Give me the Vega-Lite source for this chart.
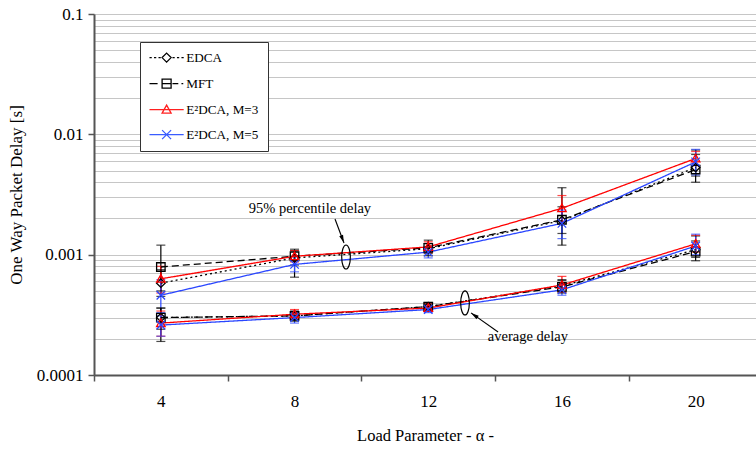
{
  "$schema": "https://vega.github.io/schema/vega-lite/v6.json",
  "width": 662,
  "height": 361,
  "autosize": {"type": "none"},
  "padding": {"left": 94, "top": 14, "right": 0, "bottom": 74},
  "background": "white",
  "config": {
    "font": "Times New Roman, Liberation Serif, DejaVu Serif, serif",
    "view": {"stroke": null},
    "axis": {
      "labelFont": "Times New Roman, Liberation Serif, DejaVu Serif, serif",
      "titleFont": "Times New Roman, Liberation Serif, DejaVu Serif, serif",
      "labelColor": "black",
      "titleColor": "black",
      "titleFontWeight": "normal",
      "domainColor": "#555555",
      "domainWidth": 2,
      "tickColor": "#555555",
      "tickWidth": 1.5,
      "tickSize": 6
    },
    "legend": {
      "labelFont": "Times New Roman, Liberation Serif, DejaVu Serif, serif"
    }
  },
  "datasets": {
    "delay": [
      {"alpha": 4, "series": "EDCA", "metric": "p95", "delay": 0.00058, "lo": 0.00045, "hi": 0.00075},
      {"alpha": 4, "series": "MFT", "metric": "p95", "delay": 0.00079, "lo": 0.0005, "hi": 0.0012},
      {"alpha": 4, "series": "E²DCA, M=3", "metric": "p95", "delay": 0.00063, "lo": 0.00048, "hi": 0.0008},
      {"alpha": 4, "series": "E²DCA, M=5", "metric": "p95", "delay": 0.00046, "lo": 0.00033, "hi": 0.00062},
      {"alpha": 4, "series": "EDCA", "metric": "avg", "delay": 0.0003, "lo": 0.00024, "hi": 0.00036},
      {"alpha": 4, "series": "MFT", "metric": "avg", "delay": 0.0003, "lo": 0.00019, "hi": 0.00036},
      {"alpha": 4, "series": "E²DCA, M=3", "metric": "avg", "delay": 0.00027, "lo": 0.00021, "hi": 0.00034},
      {"alpha": 4, "series": "E²DCA, M=5", "metric": "avg", "delay": 0.00026, "lo": 0.00021, "hi": 0.00031},
      {"alpha": 8, "series": "EDCA", "metric": "p95", "delay": 0.00094, "lo": 0.00082, "hi": 0.00108},
      {"alpha": 8, "series": "MFT", "metric": "p95", "delay": 0.00097, "lo": 0.00065, "hi": 0.00111},
      {"alpha": 8, "series": "E²DCA, M=3", "metric": "p95", "delay": 0.00097, "lo": 0.00087, "hi": 0.00108},
      {"alpha": 8, "series": "E²DCA, M=5", "metric": "p95", "delay": 0.00083, "lo": 0.00072, "hi": 0.00096},
      {"alpha": 8, "series": "EDCA", "metric": "avg", "delay": 0.00031, "lo": 0.00029, "hi": 0.00033},
      {"alpha": 8, "series": "MFT", "metric": "avg", "delay": 0.00031, "lo": 0.00028, "hi": 0.00034},
      {"alpha": 8, "series": "E²DCA, M=3", "metric": "avg", "delay": 0.00032, "lo": 0.00029, "hi": 0.00035},
      {"alpha": 8, "series": "E²DCA, M=5", "metric": "avg", "delay": 0.0003, "lo": 0.00027, "hi": 0.00033},
      {"alpha": 12, "series": "EDCA", "metric": "p95", "delay": 0.00112, "lo": 0.00102, "hi": 0.00124},
      {"alpha": 12, "series": "MFT", "metric": "p95", "delay": 0.00114, "lo": 0.00098, "hi": 0.00132},
      {"alpha": 12, "series": "E²DCA, M=3", "metric": "p95", "delay": 0.00116, "lo": 0.00104, "hi": 0.00128},
      {"alpha": 12, "series": "E²DCA, M=5", "metric": "p95", "delay": 0.00105, "lo": 0.00094, "hi": 0.00116},
      {"alpha": 12, "series": "EDCA", "metric": "avg", "delay": 0.00037, "lo": 0.00035, "hi": 0.00039},
      {"alpha": 12, "series": "MFT", "metric": "avg", "delay": 0.00037, "lo": 0.00034, "hi": 0.0004},
      {"alpha": 12, "series": "E²DCA, M=3", "metric": "avg", "delay": 0.00036, "lo": 0.00034, "hi": 0.00039},
      {"alpha": 12, "series": "E²DCA, M=5", "metric": "avg", "delay": 0.00035, "lo": 0.00033, "hi": 0.00038},
      {"alpha": 16, "series": "EDCA", "metric": "p95", "delay": 0.00192, "lo": 0.0015, "hi": 0.0025},
      {"alpha": 16, "series": "MFT", "metric": "p95", "delay": 0.00195, "lo": 0.0012, "hi": 0.0036},
      {"alpha": 16, "series": "E²DCA, M=3", "metric": "p95", "delay": 0.00243, "lo": 0.0019, "hi": 0.0031},
      {"alpha": 16, "series": "E²DCA, M=5", "metric": "p95", "delay": 0.00182, "lo": 0.00136, "hi": 0.00235},
      {"alpha": 16, "series": "EDCA", "metric": "avg", "delay": 0.00055, "lo": 0.00049, "hi": 0.00061},
      {"alpha": 16, "series": "MFT", "metric": "avg", "delay": 0.00054, "lo": 0.00048, "hi": 0.00062},
      {"alpha": 16, "series": "E²DCA, M=3", "metric": "avg", "delay": 0.00056, "lo": 0.00049, "hi": 0.00066},
      {"alpha": 16, "series": "E²DCA, M=5", "metric": "avg", "delay": 0.00051, "lo": 0.00046, "hi": 0.00057},
      {"alpha": 20, "series": "EDCA", "metric": "p95", "delay": 0.0053, "lo": 0.0045, "hi": 0.0068},
      {"alpha": 20, "series": "MFT", "metric": "p95", "delay": 0.0051, "lo": 0.004, "hi": 0.0074},
      {"alpha": 20, "series": "E²DCA, M=3", "metric": "p95", "delay": 0.0063, "lo": 0.0055, "hi": 0.0072},
      {"alpha": 20, "series": "E²DCA, M=5", "metric": "p95", "delay": 0.0059, "lo": 0.0046, "hi": 0.0075},
      {"alpha": 20, "series": "EDCA", "metric": "avg", "delay": 0.0011, "lo": 0.00095, "hi": 0.0013},
      {"alpha": 20, "series": "MFT", "metric": "avg", "delay": 0.00106, "lo": 0.00089, "hi": 0.00143},
      {"alpha": 20, "series": "E²DCA, M=3", "metric": "avg", "delay": 0.00123, "lo": 0.00105, "hi": 0.00145},
      {"alpha": 20, "series": "E²DCA, M=5", "metric": "avg", "delay": 0.00118, "lo": 0.001, "hi": 0.00148}
    ],
    "notes": [
      {"note": "p95", "label": "95% percentile delay", "x": 8.46, "y": 0.0024},
      {"note": "avg", "label": "average delay", "x": 14.98, "y": 0.000207}
    ],
    "arrows": [
      {"note": "p95", "x": 9.21, "y": 0.00198, "x2": 9.48, "y2": 0.00125},
      {"note": "avg", "x": 14.09, "y": 0.000228, "x2": 13.28, "y2": 0.000328}
    ],
    "rings": [
      {"note": "p95", "x": 9.54, "y": 0.000956},
      {"note": "avg", "x": 13.1, "y": 0.000397}
    ]
  },
  "layer": [
    {
      "data": {"name": "delay"},
      "mark": {"type": "rule", "strokeWidth": 1.2},
      "encoding": {
        "x": {
          "field": "alpha", "type": "quantitative",
          "scale": {"domain": [2, 21.806], "nice": false, "zero": false},
          "axis": {
            "values": [2, 4, 6, 8, 10, 12, 14, 16, 18, 20],
            "grid": false,
            "labelExpr": "datum.value % 4 == 0 ? datum.label : ''",
            "tickOpacity": {"condition": {"test": "datum.value % 4 == 2", "value": 1}, "value": 0},
            "labelFontSize": 17,
            "labelPadding": 12,
            "title": "Load Parameter - α -",
            "titleFontSize": 16.5,
            "titlePadding": 18
          }
        },
        "y": {
          "field": "lo", "type": "quantitative",
          "scale": {"type": "log", "domain": [0.0001, 0.1], "nice": false},
          "axis": {
            "values": [0.0001, 0.0002, 0.0003, 0.0004, 0.0005, 0.0006, 0.0007, 0.0008, 0.0009,
                       0.001, 0.002, 0.003, 0.004, 0.005, 0.006, 0.007, 0.008, 0.009,
                       0.01, 0.02, 0.03, 0.04, 0.05, 0.06, 0.07, 0.08, 0.09, 0.1],
            "format": "~g",
            "grid": true,
            "gridColor": "#c6c6c6",
            "gridWidth": 1.2,
            "labelExpr": "abs(log(datum.value)/LN10 - round(log(datum.value)/LN10)) < 1e-6 ? datum.label : ''",
            "tickOpacity": {"condition": {"test": "abs(log(datum.value)/LN10 - round(log(datum.value)/LN10)) < 1e-6", "value": 1}, "value": 0},
            "labelFontSize": 17,
            "labelPadding": 5,
            "title": "One Way Packet Delay [s]",
            "titleFontSize": 17,
            "titlePadding": 11
          }
        },
        "y2": {"field": "hi"},
        "color": {
          "field": "series", "type": "nominal",
          "scale": {
            "domain": ["EDCA", "MFT", "E²DCA, M=3", "E²DCA, M=5"],
            "range": ["#000000", "#000000", "#ff0000", "#2a46ff"]
          },
          "legend": null
        }
      }
    },
    {
      "data": {"name": "delay"},
      "mark": {"type": "tick", "orient": "horizontal", "size": 9, "thickness": 1.2},
      "encoding": {
        "x": {"field": "alpha", "type": "quantitative"},
        "y": {"field": "lo", "type": "quantitative"},
        "color": {"field": "series", "type": "nominal", "legend": null}
      }
    },
    {
      "data": {"name": "delay"},
      "mark": {"type": "tick", "orient": "horizontal", "size": 9, "thickness": 1.2},
      "encoding": {
        "x": {"field": "alpha", "type": "quantitative"},
        "y": {"field": "hi", "type": "quantitative"},
        "color": {"field": "series", "type": "nominal", "legend": null}
      }
    },
    {
      "data": {"name": "delay"},
      "mark": {"type": "line", "strokeWidth": 1.3},
      "encoding": {
        "x": {"field": "alpha", "type": "quantitative"},
        "y": {"field": "delay", "type": "quantitative"},
        "detail": {"field": "metric"},
        "color": {"field": "series", "type": "nominal", "legend": null},
        "strokeDash": {
          "field": "series", "type": "nominal",
          "scale": {
            "domain": ["EDCA", "MFT", "E²DCA, M=3", "E²DCA, M=5"],
            "range": [[2, 3], [7, 4], [1, 0], [1, 0]]
          },
          "legend": null
        }
      }
    },
    {
      "data": {"name": "delay"},
      "mark": {"type": "point", "filled": false, "size": 72, "strokeWidth": 1.3, "opacity": 1},
      "encoding": {
        "x": {"field": "alpha", "type": "quantitative"},
        "y": {"field": "delay", "type": "quantitative"},
        "color": {"field": "series", "type": "nominal", "legend": null},
        "shape": {
          "field": "series", "type": "nominal",
          "scale": {
            "domain": ["EDCA", "MFT", "E²DCA, M=3", "E²DCA, M=5"],
            "range": [
              "M0,-1L1,0L0,1L-1,0Z",
              "M-1,-1H1V1H-1Z",
              "M0,-1L1,0.8H-1Z",
              "M-1,-1L1,1M1,-1L-1,1"
            ]
          },
          "legend": null
        }
      }
    },
    {
      "data": {"name": "rings"},
      "mark": {
        "type": "point", "filled": false, "color": "black", "strokeWidth": 1.2, "opacity": 1,
        "size": 576,
        "shape": "M0,-1A0.36,1 0 1,1 0,1A0.36,1 0 1,1 0,-1Z"
      },
      "encoding": {
        "x": {"field": "x", "type": "quantitative"},
        "y": {"field": "y", "type": "quantitative"}
      }
    },
    {
      "data": {"name": "arrows"},
      "mark": {"type": "rule", "color": "black", "strokeWidth": 1.1},
      "encoding": {
        "x": {"field": "x", "type": "quantitative"},
        "y": {"field": "y", "type": "quantitative"},
        "x2": {"field": "x2"},
        "y2": {"field": "y2"}
      }
    },
    {
      "data": {"name": "arrows"},
      "transform": [{"filter": "datum.note == 'p95'"}],
      "mark": {"type": "point", "filled": true, "color": "black", "opacity": 1, "size": 64, "angle": 159, "shape": "M0,0L0.5,2L-0.5,2Z"},
      "encoding": {
        "x": {"field": "x2", "type": "quantitative"},
        "y": {"field": "y2", "type": "quantitative"}
      }
    },
    {
      "data": {"name": "arrows"},
      "transform": [{"filter": "datum.note == 'avg'"}],
      "mark": {"type": "point", "filled": true, "color": "black", "opacity": 1, "size": 64, "angle": 305, "shape": "M0,0L0.5,2L-0.5,2Z"},
      "encoding": {
        "x": {"field": "x2", "type": "quantitative"},
        "y": {"field": "y2", "type": "quantitative"}
      }
    },
    {
      "data": {"name": "notes"},
      "mark": {"type": "text", "font": "Times New Roman, Liberation Serif, DejaVu Serif, serif", "fontSize": 14.5, "color": "black", "align": "center", "baseline": "middle"},
      "encoding": {
        "x": {"field": "x", "type": "quantitative"},
        "y": {"field": "y", "type": "quantitative"},
        "text": {"field": "label"}
      }
    },
    {
      "data": {"name": "delay"},
      "transform": [{"filter": "datum.alpha == 4 && datum.metric == 'p95'"}],
      "mark": {"type": "point", "filled": false, "opacity": 0},
      "encoding": {
        "x": {"field": "alpha", "type": "quantitative"},
        "y": {"field": "delay", "type": "quantitative"},
        "stroke": {
          "field": "series", "type": "nominal",
          "scale": {
            "domain": ["EDCA", "MFT", "E²DCA, M=3", "E²DCA, M=5"],
            "range": ["#000000", "#000000", "#ff2020", "#3a5cff"]
          },
          "legend": {"title": null}
        },
        "shape": {
          "field": "series", "type": "nominal",
          "scale": {
            "domain": ["EDCA", "MFT", "E²DCA, M=3", "E²DCA, M=5"],
            "range": [
              "M-3.8,0H-3.3M-2.8,0H-2.3M-1.8,0H-1.3M0,-1L1,0L0,1L-1,0ZM1.3,0H1.8M2.3,0H2.8M3.3,0H3.8",
              "M-3.8,0H-2M-1,-1H1V1H-1ZM-1,0H1M1.3,0H2.6M3.3,0H3.7",
              "M-3.8,0H3.8M0,-1L1,0.8H-1Z",
              "M-3.8,0H3.8M-1,-1L1,1M1,-1L-1,1"
            ]
          },
          "legend": {
            "title": null,
            "orient": "none",
            "legendX": 46,
            "legendY": 28,
            "padding": 9,
            "strokeColor": "#333333",
            "fillColor": "white",
            "symbolSize": 81,
            "symbolStrokeWidth": 1.3,
            "symbolOpacity": 1,
            "symbolOffset": 11,
            "labelOffset": 13,
            "labelFont": "Times New Roman, Liberation Serif, DejaVu Serif, serif",
            "labelFontSize": 13.2,
            "labelColor": "black",
            "rowPadding": 11,
            "encode": {
              "symbols": {
                "update": {
                  "opacity": {"value": 1},
                  "strokeOpacity": {"value": 1}
                }
              }
            }
          }
        }
      }
    }
  ],
  "resolve": {"scale": {"shape": "independent", "stroke": "independent"}}
}
